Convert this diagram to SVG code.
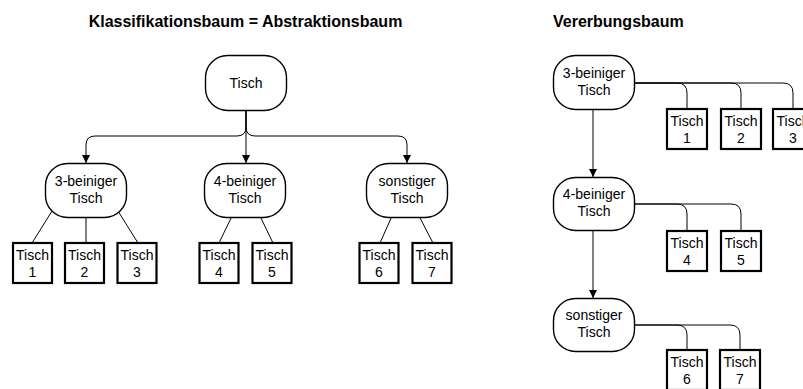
<svg xmlns="http://www.w3.org/2000/svg" width="803" height="389" viewBox="0 0 803 389">
  <style>
    .title { font-family: "Liberation Sans", Arial, sans-serif; font-size: 16px; font-weight: bold; fill: #000; }
    .lbl { font-family: "Liberation Sans", Arial, sans-serif; font-size: 14px; fill: #000; text-anchor: middle; }
    .cls { fill: #fff; stroke: #000; stroke-width: 1.4; }
    .obj { fill: #fff; stroke: #000; stroke-width: 2.2; }
    .edge { fill: none; stroke: #000; stroke-width: 1; }
    .arrow { fill: none; stroke: #000; stroke-width: 1; marker-end: url(#head); }
  </style>
  <defs>
    <marker id="head" markerUnits="userSpaceOnUse" markerWidth="10" markerHeight="10" refX="8" refY="4" orient="auto">
      <path d="M0,0 L8,4 L0,8 Z" fill="#000"/>
    </marker>
  </defs>
  <rect width="803" height="389" fill="#fff"/>

  <text class="title" x="245.5" y="27" text-anchor="middle">Klassifikationsbaum = Abstraktionsbaum</text>
  <text class="title" x="553" y="27">Vererbungsbaum</text>

  <!-- connectors -->
  <g id="connectors">
    <!-- classification tree: root to subclasses -->
    <path class="arrow" d="M246,111 V127 Q246,136 237,136 H95 Q86,136 86,145 V163"/>
    <path class="arrow" d="M246,111 V163"/>
    <path class="arrow" d="M246,111 V127 Q246,136 255,136 H398 Q407,136 407,145 V163"/>
    <!-- subclasses to instances -->
    <path class="edge" d="M52,211 L32,243"/>
    <path class="edge" d="M86,217 L86,243"/>
    <path class="edge" d="M118,211 L138,243"/>
    <path class="edge" d="M232,216 L219,243"/>
    <path class="edge" d="M260,216 L273,243"/>
    <path class="edge" d="M392,216 L380,243"/>
    <path class="edge" d="M419,216 L433,243"/>
    <!-- inheritance tree: chain -->
    <path class="arrow" d="M593,110 V177"/>
    <path class="arrow" d="M593,231 V298"/>
    <!-- inheritance tree: instances -->
    <path class="edge" d="M635,83 H677 Q687,83 687,93 V109"/>
    <path class="edge" d="M635,83 H731 Q741,83 741,93 V109"/>
    <path class="edge" d="M635,83 H783 Q793,83 793,93 V109"/>
    <path class="edge" d="M634,204 H677 Q687,204 687,214 V231"/>
    <path class="edge" d="M634,204 H731 Q741,204 741,214 V231"/>
    <path class="edge" d="M634,325 H677 Q687,325 687,335 V350"/>
    <path class="edge" d="M634,325 H730 Q740,325 740,335 V350"/>
  </g>

  <!-- classification tree -->
  <g id="k-root">
    <rect class="cls" x="205.5" y="55.5" width="81" height="55" rx="22" ry="22"/>
    <text class="lbl" x="246" y="88">Tisch</text>
  </g>
  <g id="k-3bein">
    <rect class="cls" x="45.5" y="163.5" width="81" height="54" rx="22" ry="22"/>
    <text class="lbl" x="86" y="186">3-beiniger</text>
    <text class="lbl" x="86" y="203">Tisch</text>
  </g>
  <g id="k-4bein">
    <rect class="cls" x="204.5" y="163.5" width="81" height="54" rx="22" ry="22"/>
    <text class="lbl" x="245" y="186">4-beiniger</text>
    <text class="lbl" x="245" y="203">Tisch</text>
  </g>
  <g id="k-sonst">
    <rect class="cls" x="366.5" y="163.5" width="81" height="54" rx="22" ry="22"/>
    <text class="lbl" x="407" y="186">sonstiger</text>
    <text class="lbl" x="407" y="203">Tisch</text>
  </g>
  <g id="k-t1">
    <rect class="obj" x="13" y="243" width="39" height="40"/>
    <text class="lbl" x="32.5" y="260">Tisch</text>
    <text class="lbl" x="32.5" y="277">1</text>
  </g>
  <g id="k-t2">
    <rect class="obj" x="65" y="243" width="39" height="40"/>
    <text class="lbl" x="84.5" y="260">Tisch</text>
    <text class="lbl" x="84.5" y="277">2</text>
  </g>
  <g id="k-t3">
    <rect class="obj" x="117.5" y="243" width="39" height="40"/>
    <text class="lbl" x="137" y="260">Tisch</text>
    <text class="lbl" x="137" y="277">3</text>
  </g>
  <g id="k-t4">
    <rect class="obj" x="199.5" y="243" width="39" height="40"/>
    <text class="lbl" x="219" y="260">Tisch</text>
    <text class="lbl" x="219" y="277">4</text>
  </g>
  <g id="k-t5">
    <rect class="obj" x="252.5" y="243" width="39" height="40"/>
    <text class="lbl" x="272" y="260">Tisch</text>
    <text class="lbl" x="272" y="277">5</text>
  </g>
  <g id="k-t6">
    <rect class="obj" x="359.5" y="243" width="39" height="40"/>
    <text class="lbl" x="379" y="260">Tisch</text>
    <text class="lbl" x="379" y="277">6</text>
  </g>
  <g id="k-t7">
    <rect class="obj" x="412.5" y="243" width="39" height="40"/>
    <text class="lbl" x="432" y="260">Tisch</text>
    <text class="lbl" x="432" y="277">7</text>
  </g>

  <!-- inheritance tree -->
  <g id="v-3bein">
    <rect class="cls" x="553.5" y="55.5" width="81" height="54" rx="22" ry="22"/>
    <text class="lbl" x="594" y="78">3-beiniger</text>
    <text class="lbl" x="594" y="95">Tisch</text>
  </g>
  <g id="v-4bein">
    <rect class="cls" x="553.5" y="177.5" width="81" height="53" rx="22" ry="22"/>
    <text class="lbl" x="594" y="199">4-beiniger</text>
    <text class="lbl" x="594" y="216">Tisch</text>
  </g>
  <g id="v-sonst">
    <rect class="cls" x="553.5" y="298.5" width="81" height="53" rx="22" ry="22"/>
    <text class="lbl" x="594" y="320">sonstiger</text>
    <text class="lbl" x="594" y="337">Tisch</text>
  </g>
  <g id="v-t1">
    <rect class="obj" x="667" y="109" width="40" height="40"/>
    <text class="lbl" x="687" y="126">Tisch</text>
    <text class="lbl" x="687" y="143">1</text>
  </g>
  <g id="v-t2">
    <rect class="obj" x="721" y="109" width="40" height="40"/>
    <text class="lbl" x="741" y="126">Tisch</text>
    <text class="lbl" x="741" y="143">2</text>
  </g>
  <g id="v-t3">
    <rect class="obj" x="773" y="109" width="40" height="40"/>
    <text class="lbl" x="793" y="126">Tisch</text>
    <text class="lbl" x="793" y="143">3</text>
  </g>
  <g id="v-t4">
    <rect class="obj" x="667" y="231" width="40" height="40"/>
    <text class="lbl" x="687" y="248">Tisch</text>
    <text class="lbl" x="687" y="265">4</text>
  </g>
  <g id="v-t5">
    <rect class="obj" x="721" y="231" width="40" height="40"/>
    <text class="lbl" x="741" y="248">Tisch</text>
    <text class="lbl" x="741" y="265">5</text>
  </g>
  <g id="v-t6">
    <rect class="obj" x="667" y="350" width="40" height="40"/>
    <text class="lbl" x="687" y="367">Tisch</text>
    <text class="lbl" x="687" y="384">6</text>
  </g>
  <g id="v-t7">
    <rect class="obj" x="720" y="350" width="40" height="40"/>
    <text class="lbl" x="740" y="367">Tisch</text>
    <text class="lbl" x="740" y="384">7</text>
  </g>
</svg>
